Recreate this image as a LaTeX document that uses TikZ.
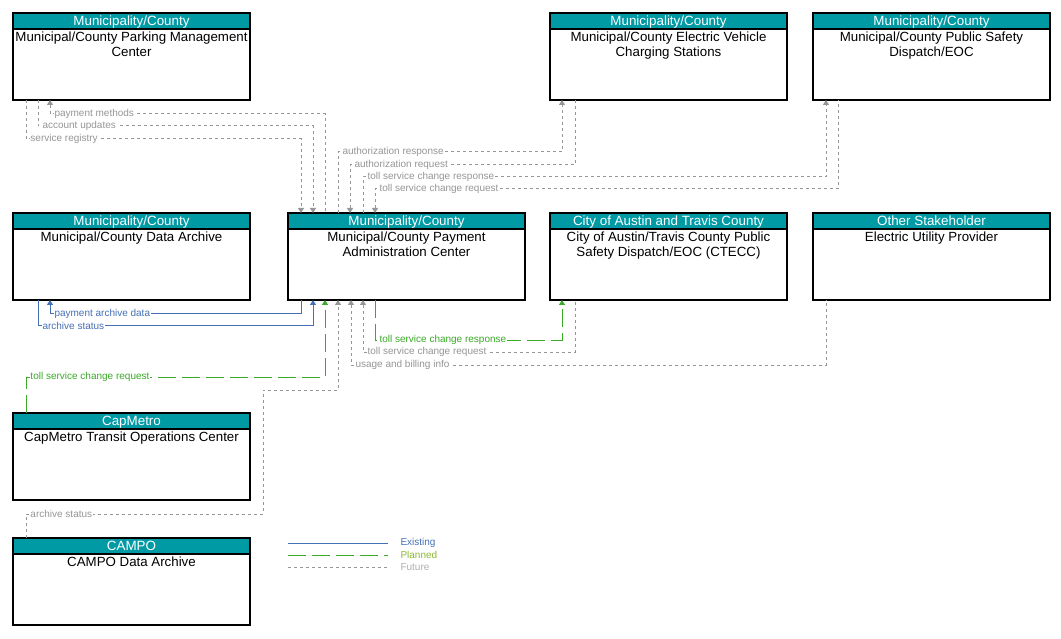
\documentclass[tikz,border=0pt]{standalone}
\usepackage{fontspec}
\setmainfont{Liberation Sans}
\usetikzlibrary{arrows.meta,positioning}
\definecolor{hdrteal}{RGB}{0,154,164}
\definecolor{flowblue}{RGB}{70,112,182}
\definecolor{flowgreen}{RGB}{58,170,40}
\definecolor{flowgray}{RGB}{150,150,150}
\definecolor{legplan}{RGB}{140,184,50}
\definecolor{legfut}{RGB}{175,175,175}

\begin{document}
\begin{tikzpicture}[x=1pt, y=-1pt, >={Triangle[length=5pt, width=6pt]},
      node distance=113pt and 38pt,
      unit/.style={draw, line width=1.2pt, fill=white, outer sep=0pt, inner sep=0pt,
          minimum width=237pt, minimum height=87pt},
      hdr/.style={draw, line width=1.2pt, fill=hdrteal, text=white, outer sep=0pt, inner sep=0pt,
          minimum width=237pt, minimum height=16pt, text height=11.5pt, text depth=2.5pt,
          anchor=north, font=\fontsize{13.4}{14.5}\selectfont},
      ttl/.style={anchor=north, align=center, inner xsep=0pt, inner ysep=3pt,
          font=\fontsize{13.3}{14.5}\selectfont},
      lbl/.style={anchor=west, fill=white, inner xsep=1pt, inner ysep=0pt, xshift=3pt,
          font=\fontsize{10}{11}\selectfont},
      legtxt/.style={anchor=west, inner sep=0pt, xshift=12pt, font=\fontsize{10}{11}\selectfont},
      existing/.style={draw=flowblue, line width=1pt, text=flowblue},
      planned/.style={draw=flowgreen, line width=1pt, dash pattern=on 18pt off 6pt, text=flowgreen},
      future/.style={draw=flowgray, line width=1pt, dash pattern=on 3pt off 3pt, text=flowgray}]

      \useasboundingbox (0,0) rectangle (1061,639);

      % boxes
      \node[unit] (arch) at (131.5,256.5) {};
      \node[unit, right=of arch] (pay) {};
      \node[unit, right=25pt of pay] (ctecc) {};
      \node[unit, right=26pt of ctecc] (elec) {};
      \node[unit, above=of arch] (park) {};
      \node[unit, above=of ctecc] (ev) {};
      \node[unit, above=of elec] (psd) {};
      \node[unit, below=of arch] (capm) {};
      \node[unit, below=38pt of capm] (campo) {};

      \node[hdr] (park-h) at (park.north) {Municipality/County};
      \node[ttl] (park-t) at (park-h.south) {Municipal/County Parking Management\\Center};
      \node[hdr] (ev-h) at (ev.north) {Municipality/County};
      \node[ttl] (ev-t) at (ev-h.south) {Municipal/County Electric Vehicle\\Charging Stations};
      \node[hdr] (psd-h) at (psd.north) {Municipality/County};
      \node[ttl] (psd-t) at (psd-h.south) {Municipal/County Public Safety\\Dispatch/EOC};
      \node[hdr] (arch-h) at (arch.north) {Municipality/County};
      \node[ttl] (arch-t) at (arch-h.south) {Municipal/County Data Archive};
      \node[hdr] (pay-h) at (pay.north) {Municipality/County};
      \node[ttl] (pay-t) at (pay-h.south) {Municipal/County Payment\\Administration Center};
      \node[hdr] (ctecc-h) at (ctecc.north) {City of Austin and Travis County};
      \node[ttl] (ctecc-t) at (ctecc-h.south) {City of Austin/Travis County Public\\Safety Dispatch/EOC (CTECC)};
      \node[hdr] (elec-h) at (elec.north) {Other Stakeholder};
      \node[ttl] (elec-t) at (elec-h.south) {Electric Utility Provider};
      \node[hdr] (capm-h) at (capm.north) {CapMetro};
      \node[ttl] (capm-t) at (capm-h.south) {CapMetro Transit Operations Center};
      \node[hdr] (campo-h) at (campo.north) {CAMPO};
      \node[ttl] (campo-t) at (campo-h.south) {CAMPO Data Archive};

      % flows above the payment center
      \draw[future, ->] ([xshift=13pt]park.south west) -- ++(0,39) node[lbl] {service registry}
          -| ([xshift=13pt]pay.north west);
      \draw[future, ->] ([xshift=25pt]park.south west) -- ++(0,26) node[lbl] {account updates}
          -| ([xshift=25pt]pay.north west);
      \draw[future, <-] ([xshift=37pt]park.south west) -- ++(0,14) node[lbl] {payment methods}
          -| ([xshift=37pt]pay.north west);
      \draw[future, ->] ([xshift=50pt]pay.north west) -- ++(0,-61) node[lbl] {authorization response}
          -| ([xshift=12pt]ev.south west);
      \draw[future, <-] ([xshift=62pt]pay.north west) -- ++(0,-48) node[lbl] {authorization request}
          -| ([xshift=25pt]ev.south west);
      \draw[future, ->] ([xshift=75pt]pay.north west) -- ++(0,-36) node[lbl] {toll service change response}
          -| ([xshift=13pt]psd.south west);
      \draw[future, <-] ([xshift=87pt]pay.north west) -- ++(0,-24) node[lbl] {toll service change request}
          -| ([xshift=25pt]psd.south west);

      % flows below the payment center
      \draw[existing, <-] ([xshift=37pt]arch.south west) -- ++(0,14) node[lbl] {payment archive data}
          -| ([xshift=13pt]pay.south west);
      \draw[existing, ->] ([xshift=25pt]arch.south west) -- ++(0,26) node[lbl] {archive status}
          -| ([xshift=25pt]pay.south west);
      \draw[planned, ->] ([xshift=13pt]capm.north west) -- ++(0,-36) node[lbl] {toll service change request}
          -| ([xshift=37pt]pay.south west);
      \draw[future, ->] ([xshift=13pt]campo.north west) -- ++(0,-24) node[lbl] {archive status}
          -- ++(237,0) -- ++(0,-124) -| ([xshift=50pt]pay.south west);
      \draw[future, <-] ([xshift=63pt]pay.south west) -- ++(0,65) node[lbl] {usage and billing info}
          -| ([xshift=13pt]elec.south west);
      \draw[future, <-] ([xshift=75pt]pay.south west) -- ++(0,52) node[lbl] {toll service change request}
          -| ([xshift=25pt]ctecc.south west);
      \draw[planned, ->] ([xshift=87pt]pay.south west) -- ++(0,40) node[lbl] {toll service change response}
          -| ([xshift=12pt]ctecc.south west);

      % legend
      \coordinate (leg-e) at (288,543);
      \coordinate (leg-p) at (288,555);
      \coordinate (leg-f) at (288,567);
      \draw[existing] (leg-e) -- ++(100,0) node[legtxt] {Existing};
      \draw[planned] (leg-p) -- ++(100,0) node[legtxt, text=legplan] {Planned};
      \draw[future] (leg-f) -- ++(100,0) node[legtxt, text=legfut] {Future};
\end{tikzpicture}
\end{document}
